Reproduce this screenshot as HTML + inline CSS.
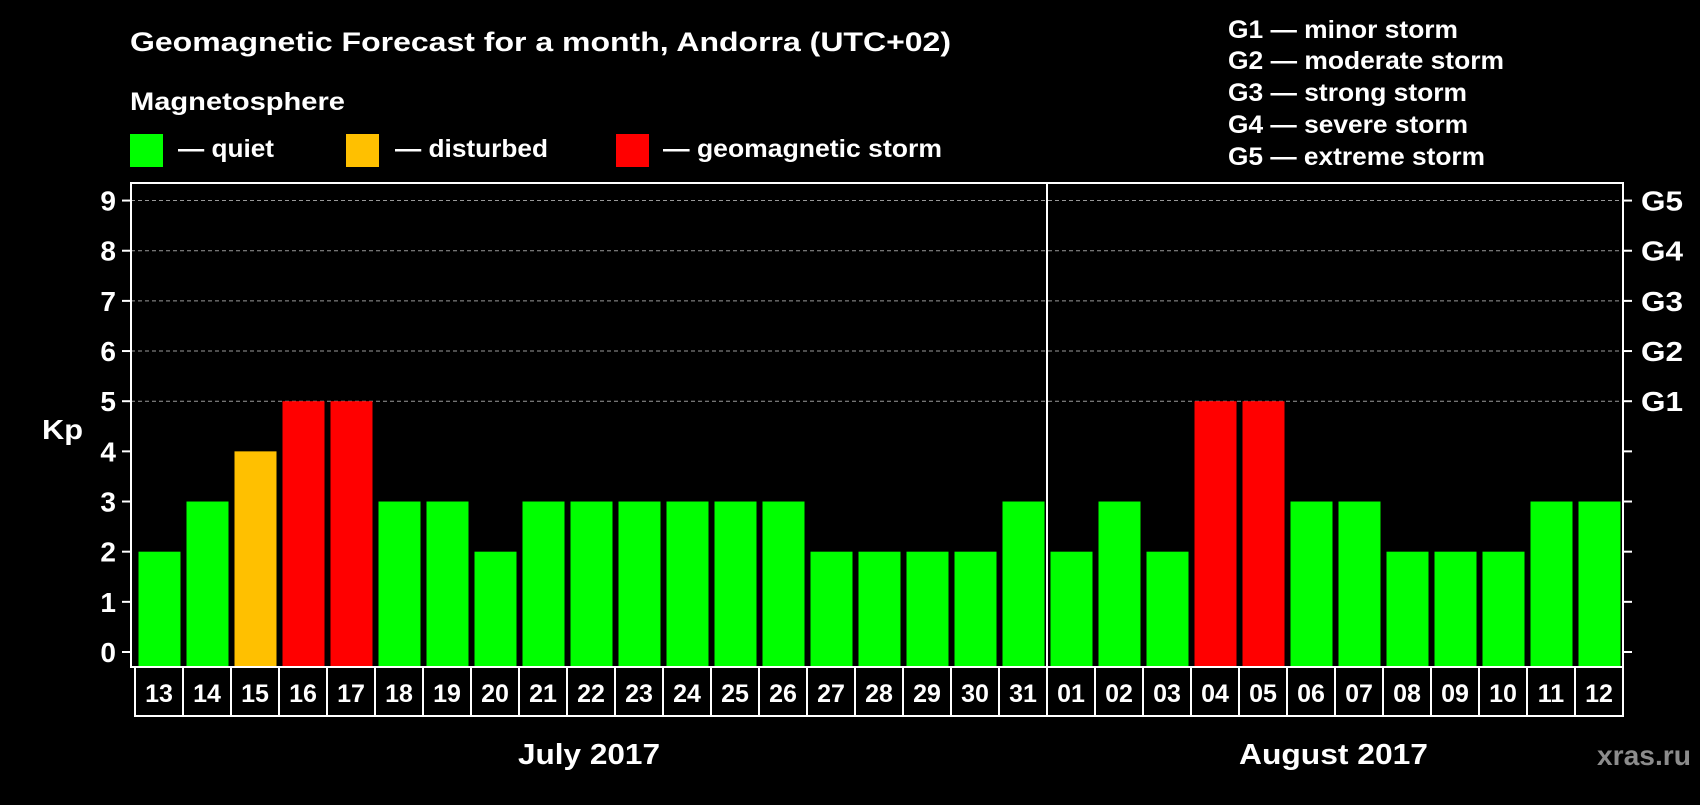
<!DOCTYPE html>
<html><head><meta charset="utf-8"><style>
html,body{margin:0;padding:0;background:#000;}
svg text{font-family:"Liberation Sans",Arial,sans-serif;font-weight:bold;fill:#fff;}
</style></head><body>
<svg id="chart" width="1700" height="800" viewBox="0 0 1700 800" xmlns="http://www.w3.org/2000/svg">
<rect width="1700" height="800" fill="#000"/>
<text x="130" y="51" font-size="27" textLength="821" lengthAdjust="spacingAndGlyphs">Geomagnetic Forecast for a month, Andorra (UTC+02)</text>
<text x="130" y="110" font-size="25" textLength="215" lengthAdjust="spacingAndGlyphs">Magnetosphere</text>
<g><rect x="130" y="134" width="33" height="33" fill="#00ff00"/><text x="178" y="157" font-size="25" textLength="96" lengthAdjust="spacingAndGlyphs">— quiet</text></g>
<g><rect x="346" y="134" width="33" height="33" fill="#ffc000"/><text x="395" y="157" font-size="25" textLength="153" lengthAdjust="spacingAndGlyphs">— disturbed</text></g>
<g><rect x="616" y="134" width="33" height="33" fill="#ff0000"/><text x="663" y="157" font-size="25" textLength="279" lengthAdjust="spacingAndGlyphs">— geomagnetic storm</text></g>
<g font-size="25">
<text x="1228" y="38" textLength="230" lengthAdjust="spacingAndGlyphs">G1 — minor storm</text>
<text x="1228" y="69" textLength="276" lengthAdjust="spacingAndGlyphs">G2 — moderate storm</text>
<text x="1228" y="101" textLength="239" lengthAdjust="spacingAndGlyphs">G3 — strong storm</text>
<text x="1228" y="133" textLength="240" lengthAdjust="spacingAndGlyphs">G4 — severe storm</text>
<text x="1228" y="165" textLength="257" lengthAdjust="spacingAndGlyphs">G5 — extreme storm</text>
</g>
<text x="42" y="439" font-size="28" textLength="41" lengthAdjust="spacingAndGlyphs">Kp</text>
<g id="grid"></g><g id="bars"></g><g id="axes"></g>
<text x="518" y="764" font-size="29" textLength="142" lengthAdjust="spacingAndGlyphs">July 2017</text>
<text x="1239" y="764" font-size="29" textLength="189" lengthAdjust="spacingAndGlyphs">August 2017</text>
<text x="1597" y="765" font-size="28" textLength="94" lengthAdjust="spacingAndGlyphs" style="fill:#8c8c8c">xras.ru</text>
</svg>
<script>
const days = ["13","14","15","16","17","18","19","20","21","22","23","24","25","26","27","28","29","30","31","01","02","03","04","05","06","07","08","09","10","11","12"];
const kpValues = [2,3,4,5,5,3,3,2,3,3,3,3,3,3,2,2,2,2,3,2,3,2,5,5,3,3,2,2,2,3,3];
const yTicks = [0,1,2,3,4,5,6,7,8,9];
const gLabels = ["G1","G2","G3","G4","G5"];
const monthSplitIndex = 19;

const NS="http://www.w3.org/2000/svg";
const plotL=131, plotR=1623, plotT=183, plotB=667;
const y0=652, unit=50.16;
const x0=135, step=48, cellH=49;
function yS(v){return y0-v*unit;}
function xS(i){return x0+i*step;}
function mk(tag,attrs,parent){const e=document.createElementNS(NS,tag);for(const k in attrs)e.setAttribute(k,attrs[k]);parent.appendChild(e);return e;}
const grid=document.getElementById('grid'),bars=document.getElementById('bars'),axes=document.getElementById('axes');
yTicks.forEach(v=>{
  const y=yS(v);
  if(v>=5){const l=mk('line',{x1:plotL,x2:plotR,y1:y,y2:y,stroke:'#9a9a9a','stroke-width':1,'stroke-dasharray':'4,3'},grid);
  
  }
  mk('line',{x1:plotL-9,x2:plotL,y1:y,y2:y,stroke:'#fff','stroke-width':2},axes);
  mk('line',{x1:plotR,x2:plotR+9,y1:y,y2:y,stroke:'#fff','stroke-width':2},axes);
  const t=mk('text',{x:116,y:y+10,'font-size':28,'text-anchor':'end'},axes);t.textContent=v;
  
  
  if(v>=5){const g=mk('text',{x:1641,y:y+10,'font-size':28,textLength:42,lengthAdjust:'spacingAndGlyphs'},axes);g.textContent=gLabels[v-5];
  
  }
});
kpValues.forEach((v,i)=>{
  const c=v>=5?'#ff0000':(v>=4?'#ffc000':'#00ff00');
  const r=mk('rect',{x:xS(i)+3.5,y:yS(v),width:42,height:plotB-1-yS(v),fill:c},bars);
  
  
  const cell=mk('rect',{x:xS(i),y:plotB,width:step,height:cellH,fill:'none',stroke:'#fff','stroke-width':2},axes);
  
  
  const t=mk('text',{x:xS(i)+step/2,y:plotB+35,'font-size':25,'text-anchor':'middle'},axes);t.textContent=days[i];
  
  
});
const frame=mk('rect',{x:plotL,y:plotT,width:plotR-plotL,height:plotB-plotT,fill:'none',stroke:'#fff','stroke-width':2},axes);


const dx=xS(monthSplitIndex);
const div=mk('line',{x1:dx,x2:dx,y1:plotT,y2:plotB+cellH,stroke:'#fff','stroke-width':2},axes);


</script>
</body></html>
